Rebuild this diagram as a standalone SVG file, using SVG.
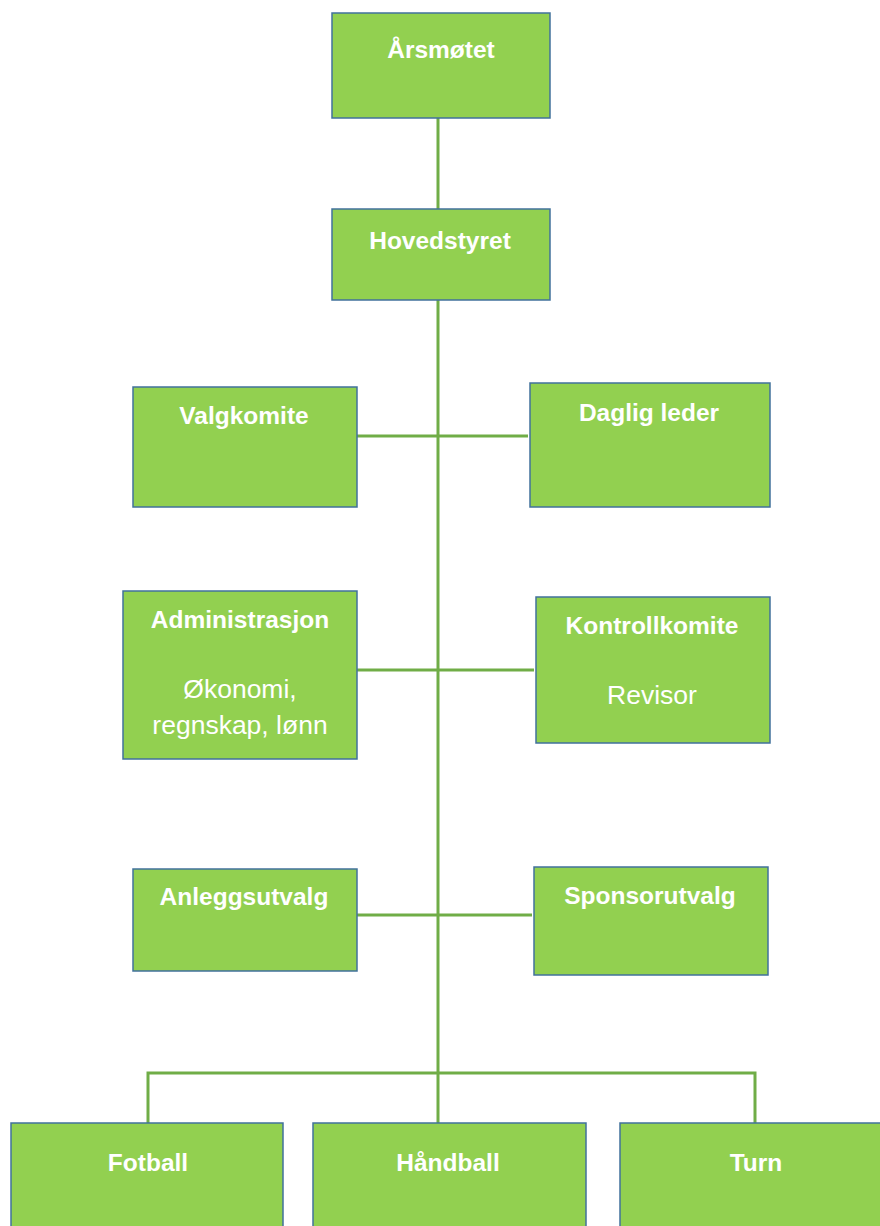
<svg xmlns="http://www.w3.org/2000/svg" width="880" height="1226" viewBox="0 0 880 1226">
<style>
.box{fill:#92d050;stroke:#41719c;stroke-width:1.5}
.t{font-family:"Liberation Sans",Arial,sans-serif;font-size:24.5px;font-weight:bold;fill:#ffffff;text-anchor:middle}
.s{font-family:"Liberation Sans",Arial,sans-serif;font-size:26.5px;fill:#ffffff;text-anchor:middle}
.c{stroke:#70ad47;stroke-width:3;fill:none}
</style>
<rect width="880" height="1226" fill="#ffffff"/>
<g id="connectors">
<line class="c" x1="438" y1="118" x2="438" y2="1123"/>
<line class="c" x1="357" y1="436" x2="528" y2="436"/>
<line class="c" x1="357" y1="670" x2="534" y2="670"/>
<line class="c" x1="357" y1="915" x2="532" y2="915"/>
<polyline class="c" points="148,1123 148,1073 755,1073 755,1123"/>
</g>
<g id="arsmotet"><rect class="box" x="332" y="13" width="218" height="105"/><text class="t" x="441" y="58">Årsmøtet</text></g>
<g id="hovedstyret"><rect class="box" x="332" y="209" width="218" height="91"/><text class="t" x="440" y="249">Hovedstyret</text></g>
<g id="valgkomite"><rect class="box" x="133" y="387" width="224" height="120"/><text class="t" x="244" y="424">Valgkomite</text></g>
<g id="dagligleder"><rect class="box" x="530" y="383" width="240" height="124"/><text class="t" x="649" y="421">Daglig leder</text></g>
<g id="administrasjon"><rect class="box" x="123" y="591" width="234" height="168"/><text class="t" x="240" y="628">Administrasjon</text><text class="s" x="240" y="698">Økonomi,</text><text class="s" x="240" y="734">regnskap, lønn</text></g>
<g id="kontrollkomite"><rect class="box" x="536" y="597" width="234" height="146"/><text class="t" x="652" y="634">Kontrollkomite</text><text class="s" x="652" y="704">Revisor</text></g>
<g id="anleggsutvalg"><rect class="box" x="133" y="869" width="224" height="102"/><text class="t" x="244" y="905">Anleggsutvalg</text></g>
<g id="sponsorutvalg"><rect class="box" x="534" y="867" width="234" height="108"/><text class="t" x="650" y="904">Sponsorutvalg</text></g>
<g id="fotball"><rect class="box" x="11" y="1123" width="272" height="110"/><text class="t" x="148" y="1171">Fotball</text></g>
<g id="handball"><rect class="box" x="313" y="1123" width="273" height="110"/><text class="t" x="448" y="1171">Håndball</text></g>
<g id="turn"><rect class="box" x="620" y="1123" width="270" height="110"/><text class="t" x="756" y="1171">Turn</text></g>
</svg>
